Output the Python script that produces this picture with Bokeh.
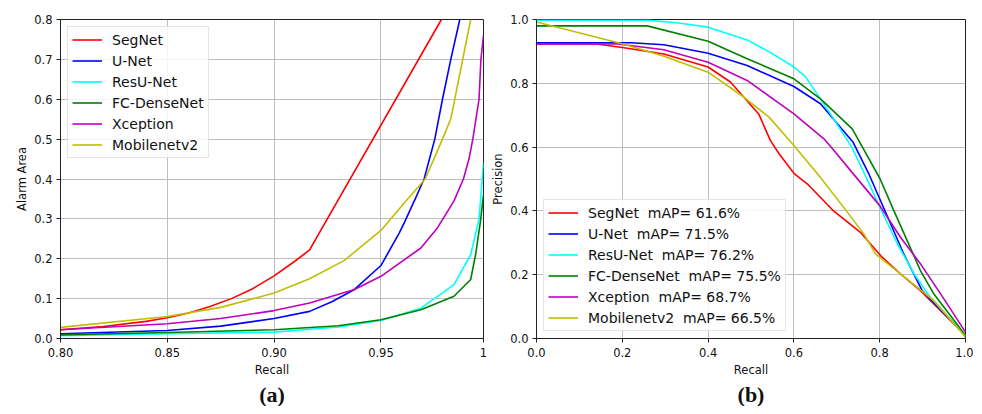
from bokeh.plotting import figure
from bokeh.layouts import row
from bokeh.models import FixedTicker, NumeralTickFormatter, Range1d, Title
from bokeh.embed import file_html
from bokeh.resources import INLINE

# ---------------- panel (a): Alarm Area vs Recall ----------------
names = ["SegNet", "U-Net", "ResU-Net", "FC-DenseNet", "Xception", "Mobilenetv2"]
colors = ["#ff0000", "#0000ff", "#00ffff", "#008000", "#bf00bf", "#bfbf00"]

segnet_a_x = [0.80, 0.82, 0.84, 0.85, 0.86, 0.87, 0.88, 0.89, 0.90, 0.91, 0.9166, 0.9783]
segnet_a_y = [0.022, 0.030, 0.043, 0.052, 0.064, 0.080, 0.100, 0.125, 0.157, 0.195, 0.222, 0.80]

unet_a_x = [0.80, 0.85, 0.875, 0.90, 0.9166, 0.927, 0.9376, 0.95, 0.9586, 0.9609, 0.9662, 0.9702, 0.9752, 0.9788, 0.9827, 0.9869]
unet_a_y = [0.012, 0.020, 0.031, 0.050, 0.068, 0.092, 0.123, 0.183, 0.265, 0.290, 0.352, 0.40, 0.50, 0.60, 0.70, 0.80]

resunet_a_x = [0.80, 0.85, 0.90, 0.93, 0.95, 0.9687, 0.9842, 0.992, 0.9959, 0.998]
resunet_a_y = [0.007, 0.012, 0.016, 0.029, 0.045, 0.076, 0.135, 0.21, 0.30, 0.44]

fcd_a_x = [0.80, 0.85, 0.90, 0.93, 0.95, 0.9687, 0.9842, 0.992, 0.9943, 0.9966, 0.998]
fcd_a_y = [0.009, 0.015, 0.022, 0.032, 0.047, 0.072, 0.106, 0.148, 0.21, 0.295, 0.36]

xcep_a_x = [0.80, 0.85, 0.875, 0.90, 0.9166, 0.9376, 0.95, 0.9687, 0.9765, 0.9842, 0.9886, 0.9912, 0.993, 0.9959, 0.9968, 0.998]
xcep_a_y = [0.022, 0.037, 0.050, 0.070, 0.089, 0.123, 0.156, 0.227, 0.278, 0.345, 0.40, 0.45, 0.50, 0.60, 0.70, 0.76]

mob_a_x = [0.80, 0.85, 0.875, 0.90, 0.9166, 0.9329, 0.95, 0.9617, 0.9707, 0.9788, 0.9827, 0.992]
mob_a_y = [0.028, 0.055, 0.078, 0.114, 0.150, 0.196, 0.271, 0.345, 0.40, 0.50, 0.551, 0.80]

a_xticks = [0.80, 0.85, 0.90, 0.95, 0.998]
a_yticks = [0.0, 0.1, 0.2, 0.3, 0.4, 0.5, 0.6, 0.7, 0.8]

# ---------------- panel (b): Precision vs Recall ----------------
b_labels = ["SegNet\u00a0 mAP= 61.6%", "U-Net\u00a0 mAP= 71.5%", "ResU-Net\u00a0 mAP= 76.2%",
            "FC-DenseNet\u00a0 mAP= 75.5%", "Xception\u00a0 mAP= 68.7%", "Mobilenetv2\u00a0 mAP= 66.5%"]

segnet_b_x = [0.0, 0.14, 0.2, 0.297, 0.4, 0.452, 0.518, 0.545, 0.565, 0.6, 0.631, 0.691, 0.755, 0.802, 0.848, 0.895, 1.0]
segnet_b_y = [0.923, 0.923, 0.912, 0.892, 0.851, 0.804, 0.704, 0.621, 0.580, 0.518, 0.485, 0.402, 0.333, 0.260, 0.203, 0.150, 0.01]

unet_b_x = [0.0, 0.22, 0.297, 0.4, 0.491, 0.6, 0.662, 0.738, 0.775, 0.814, 0.856, 0.899, 1.0]
unet_b_y = [0.927, 0.927, 0.921, 0.894, 0.856, 0.790, 0.736, 0.615, 0.515, 0.395, 0.265, 0.150, 0.01]

resunet_b_x = [0.0, 0.258, 0.336, 0.4, 0.491, 0.545, 0.6, 0.627, 0.654, 0.685, 0.735, 0.767, 0.801, 0.841, 0.88, 0.918, 1.0]
resunet_b_y = [0.998, 0.998, 0.988, 0.976, 0.936, 0.897, 0.851, 0.821, 0.767, 0.704, 0.600, 0.510, 0.410, 0.297, 0.203, 0.129, 0.01]

fcd_b_x = [0.0, 0.258, 0.4, 0.491, 0.6, 0.662, 0.736, 0.763, 0.801, 0.833, 0.864, 0.895, 0.926, 1.0]
fcd_b_y = [0.980, 0.980, 0.932, 0.877, 0.814, 0.751, 0.657, 0.592, 0.500, 0.401, 0.307, 0.213, 0.140, 0.01]

xcep_b_x = [0.0, 0.19, 0.297, 0.4, 0.491, 0.6, 0.67, 0.693, 0.736, 0.801, 0.848, 0.895, 0.942, 1.0]
xcep_b_y = [0.923, 0.923, 0.905, 0.866, 0.809, 0.704, 0.626, 0.590, 0.520, 0.415, 0.318, 0.234, 0.140, 0.02]

mob_b_x = [0.0, 0.2, 0.297, 0.4, 0.483, 0.542, 0.6, 0.662, 0.72, 0.763, 0.79, 0.848, 0.926, 1.0]
mob_b_y = [0.992, 0.924, 0.885, 0.835, 0.757, 0.694, 0.605, 0.505, 0.404, 0.328, 0.265, 0.203, 0.119, 0.005]

b_ticks = [0.0, 0.2, 0.4, 0.6, 0.8, 1.0]

FONT = "DejaVu Sans"


def style(p, xlabel, ylabel):
    p.outline_line_color = "#222222"
    p.outline_line_width = 1
    for ax in (p.xaxis[0], p.yaxis[0]):
        ax.axis_line_color = "#222222"
        ax.major_tick_line_color = "#222222"
        ax.major_tick_out = 4
        ax.major_tick_in = 0
        ax.minor_tick_line_color = None
        ax.major_label_text_font = FONT
        ax.major_label_text_font_size = "11.5px"
        ax.major_label_text_color = "#111111"
        ax.axis_label_text_font = FONT
        ax.axis_label_text_font_size = "11.5px"
        ax.axis_label_text_font_style = "normal"
        ax.axis_label_text_color = "#111111"
    p.xaxis.major_label_standoff = 5
    p.xaxis.axis_label_standoff = 3
    p.yaxis.major_label_standoff = 4
    p.yaxis.axis_label_standoff = 2
    p.xaxis.axis_label = xlabel
    p.yaxis.axis_label = ylabel
    p.grid.grid_line_color = "#bdbdbd"
    p.grid.grid_line_width = 1
    p.background_fill_color = "white"
    p.border_fill_color = "white"


def style_legend(p, loc):
    lg = p.legend[0]
    lg.location = loc
    lg.margin = 7
    lg.padding = 4
    lg.spacing = 4
    lg.glyph_width = 30
    lg.glyph_height = 17
    lg.label_height = 17
    lg.label_standoff = 10
    lg.label_text_font = FONT
    lg.label_text_font_size = "14px"
    lg.label_text_color = "#111111"
    lg.border_line_color = "#cccccc"
    lg.border_line_width = 1
    lg.background_fill_alpha = 0.85


def add_caption(p, text):
    t = Title(text=text, align="center", text_font="Liberation Serif",
              text_font_size="22px", text_font_style="bold", text_color="#111111",
              standoff=0, offset=0)
    p.add_layout(t, "below")


# ---- figure (a)
pa = figure(frame_width=423, frame_height=319, output_backend="svg", toolbar_location=None,
            x_range=Range1d(0.80, 0.998), y_range=Range1d(0.0, 0.8),
            min_border_left=60, min_border_right=4, min_border_top=19, min_border_bottom=0)
a_series = [(segnet_a_x, segnet_a_y), (unet_a_x, unet_a_y), (resunet_a_x, resunet_a_y),
            (fcd_a_x, fcd_a_y), (xcep_a_x, xcep_a_y), (mob_a_x, mob_a_y)]
for (xs, ys), c, n in zip(a_series, colors, names):
    pa.line(xs, ys, line_color=c, line_width=1.6, legend_label=n)
style(pa, "Recall", "Alarm Area")
pa.xaxis.ticker = FixedTicker(ticks=a_xticks)
pa.xaxis.formatter = NumeralTickFormatter(format="0.00")
pa.xaxis.major_label_overrides = {0.998: "1"}
pa.yaxis.ticker = FixedTicker(ticks=a_yticks)
pa.yaxis.formatter = NumeralTickFormatter(format="0.0")
style_legend(pa, "top_left")
add_caption(pa, "(a)")

# ---- figure (b)
pb = figure(frame_width=429, frame_height=319, output_backend="svg", toolbar_location=None,
            x_range=Range1d(0.0, 1.0), y_range=Range1d(0.0, 1.0),
            min_border_left=49, min_border_right=8, min_border_top=19, min_border_bottom=0)
b_series = [(segnet_b_x, segnet_b_y), (unet_b_x, unet_b_y), (resunet_b_x, resunet_b_y),
            (fcd_b_x, fcd_b_y), (xcep_b_x, xcep_b_y), (mob_b_x, mob_b_y)]
for (xs, ys), c, n in zip(b_series, colors, b_labels):
    pb.line(xs, ys, line_color=c, line_width=1.6, legend_label=n)
style(pb, "Recall", "Precision")
pb.xaxis.ticker = FixedTicker(ticks=b_ticks)
pb.yaxis.ticker = FixedTicker(ticks=b_ticks)
pb.xaxis.formatter = NumeralTickFormatter(format="0.0")
pb.yaxis.formatter = NumeralTickFormatter(format="0.0")
style_legend(pb, "bottom_left")
add_caption(pb, "(b)")

layout = row(pa, pb, spacing=0)
open("out.html", "w").write(file_html(layout, INLINE))
